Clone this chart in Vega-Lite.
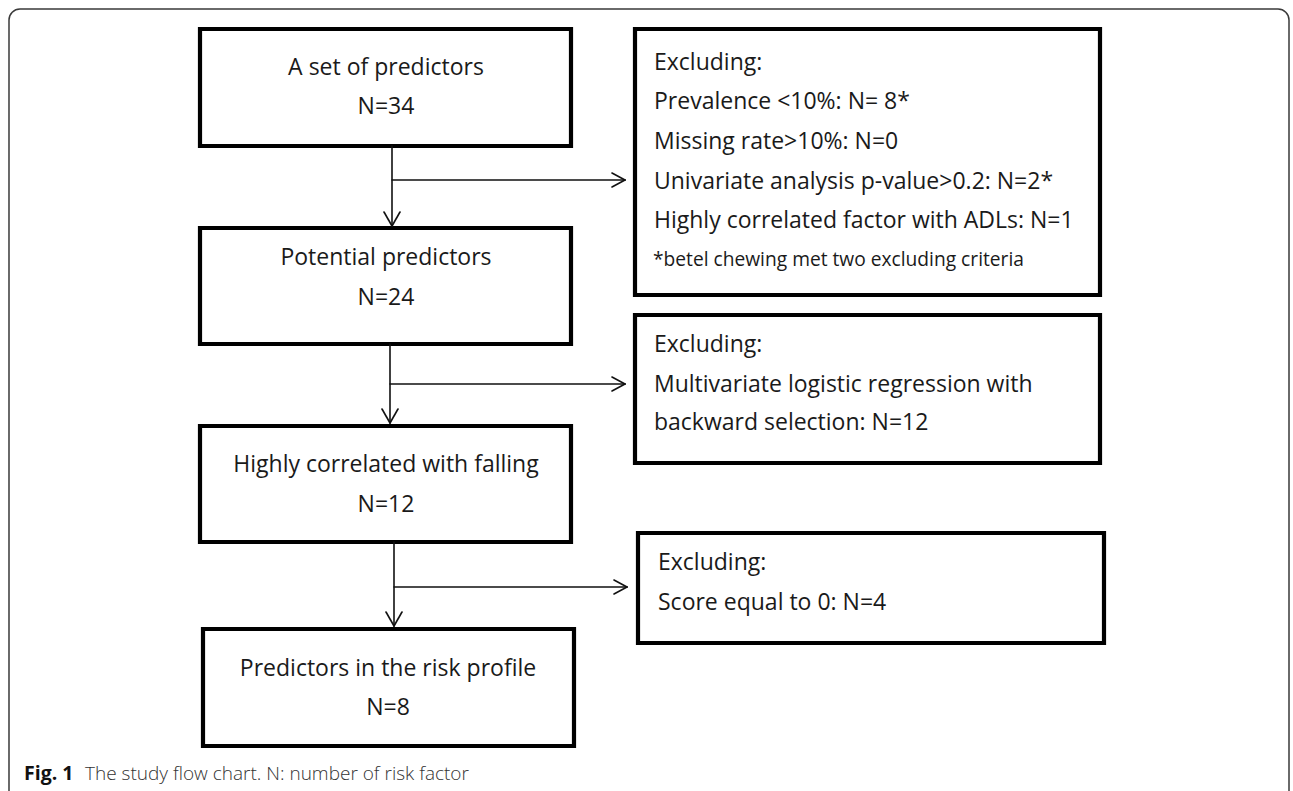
{
  "$schema": "https://vega.github.io/schema/vega-lite/v6.json",
  "width": 1293,
  "height": 791,
  "autosize": {"type": "fit", "contains": "padding"},
  "padding": 0,
  "background": "white",
  "config": {"view": {"stroke": null}},
  "datasets": {
    "frame": [{"x": 9, "x2": 1289, "y": 9, "y2": 840}],
    "boxes": [
      {"id": "B1", "x": 200, "x2": 571, "y": 29, "y2": 146},
      {"id": "B2", "x": 635, "x2": 1100, "y": 29, "y2": 295},
      {"id": "B3", "x": 200, "x2": 571, "y": 228, "y2": 344},
      {"id": "B4", "x": 635, "x2": 1100, "y": 315, "y2": 463},
      {"id": "B5", "x": 200, "x2": 571, "y": 426, "y2": 542},
      {"id": "B6", "x": 638, "x2": 1104, "y": 533, "y2": 643},
      {"id": "B7", "x": 203, "x2": 574, "y": 629, "y2": 746}
    ],
    "links": [
      {"x": 392, "y": 146, "x2": 392, "y2": 226},
      {"x": 384, "y": 212, "x2": 392, "y2": 226},
      {"x": 400, "y": 212, "x2": 392, "y2": 226},
      {"x": 392, "y": 180, "x2": 625, "y2": 180},
      {"x": 612, "y": 173, "x2": 625, "y2": 180},
      {"x": 612, "y": 187, "x2": 625, "y2": 180},
      {"x": 390, "y": 344, "x2": 390, "y2": 423},
      {"x": 382, "y": 409, "x2": 390, "y2": 423},
      {"x": 398, "y": 409, "x2": 390, "y2": 423},
      {"x": 390, "y": 384, "x2": 625, "y2": 384},
      {"x": 612, "y": 377, "x2": 625, "y2": 384},
      {"x": 612, "y": 391, "x2": 625, "y2": 384},
      {"x": 394, "y": 542, "x2": 394, "y2": 626},
      {"x": 386, "y": 612, "x2": 394, "y2": 626},
      {"x": 402, "y": 612, "x2": 394, "y2": 626},
      {"x": 394, "y": 587, "x2": 627, "y2": 587},
      {"x": 614, "y": 580, "x2": 627, "y2": 587},
      {"x": 614, "y": 594, "x2": 627, "y2": 587}
    ],
    "labels": [
      {"role": "center", "x": 386, "y": 68, "text": "A set of predictors"},
      {"role": "center", "x": 386, "y": 107, "text": "N=34"},
      {"role": "center", "x": 386, "y": 258, "text": "Potential predictors"},
      {"role": "center", "x": 386, "y": 298, "text": "N=24"},
      {"role": "center", "x": 386, "y": 465, "text": "Highly correlated with falling"},
      {"role": "center", "x": 386, "y": 505, "text": "N=12"},
      {"role": "center", "x": 388, "y": 669, "text": "Predictors in the risk profile"},
      {"role": "center", "x": 388, "y": 708, "text": "N=8"},
      {"role": "left", "x": 654, "y": 63, "text": "Excluding:"},
      {"role": "left", "x": 654, "y": 102, "text": "Prevalence <10%: N= 8*"},
      {"role": "left", "x": 654, "y": 142, "text": "Missing rate>10%: N=0"},
      {"role": "left", "x": 654, "y": 182, "text": "Univariate analysis p-value>0.2: N=2*"},
      {"role": "left", "x": 654, "y": 221, "text": "Highly correlated factor with ADLs: N=1"},
      {"role": "note", "x": 653, "y": 260, "text": "*betel chewing met two excluding criteria"},
      {"role": "left", "x": 654, "y": 345, "text": "Excluding:"},
      {"role": "left", "x": 654, "y": 385, "text": "Multivariate logistic regression with"},
      {"role": "left", "x": 654, "y": 423, "text": "backward selection: N=12"},
      {"role": "left", "x": 658, "y": 563, "text": "Excluding:"},
      {"role": "left", "x": 658, "y": 603, "text": "Score equal to 0: N=4"},
      {"role": "figno", "x": 24, "y": 774, "text": "Fig. 1"},
      {"role": "caption", "x": 85, "y": 774, "text": "The study flow chart. N: number of risk factor"}
    ]
  },
  "encoding": {
    "x": {"field": "x", "type": "quantitative", "scale": {"domain": [0, 1293], "nice": false, "zero": false}, "axis": null},
    "y": {"field": "y", "type": "quantitative", "scale": {"domain": [0, 791], "nice": false, "zero": false, "reverse": true}, "axis": null}
  },
  "layer": [
    {
      "data": {"name": "frame"},
      "mark": {"type": "rect", "fill": "white", "stroke": "#3a3a3a", "strokeWidth": 1.5, "cornerRadius": 11, "clip": true},
      "encoding": {"x2": {"field": "x2"}, "y2": {"field": "y2"}}
    },
    {
      "data": {"name": "boxes"},
      "mark": {"type": "rect", "fill": "white", "stroke": "#000000", "strokeWidth": 4.2},
      "encoding": {"x2": {"field": "x2"}, "y2": {"field": "y2"}}
    },
    {
      "data": {"name": "links"},
      "mark": {"type": "rule", "stroke": "#111111", "strokeWidth": 1.6, "strokeCap": "round"},
      "encoding": {"x2": {"field": "x2"}, "y2": {"field": "y2"}}
    },
    {
      "data": {"name": "labels"},
      "transform": [{"filter": "datum.role === 'center'"}],
      "mark": {"type": "text", "align": "center", "baseline": "middle", "font": "Open Sans", "fontSize": 23, "color": "#1a1a1a"},
      "encoding": {"text": {"field": "text"}}
    },
    {
      "data": {"name": "labels"},
      "transform": [{"filter": "datum.role === 'left'"}],
      "mark": {"type": "text", "align": "left", "baseline": "middle", "font": "Open Sans", "fontSize": 23, "color": "#1a1a1a"},
      "encoding": {"text": {"field": "text"}}
    },
    {
      "data": {"name": "labels"},
      "transform": [{"filter": "datum.role === 'note'"}],
      "mark": {"type": "text", "align": "left", "baseline": "middle", "font": "Open Sans", "fontSize": 19.2, "color": "#1a1a1a"},
      "encoding": {"text": {"field": "text"}}
    },
    {
      "data": {"name": "labels"},
      "transform": [{"filter": "datum.role === 'figno'"}],
      "mark": {"type": "text", "align": "left", "baseline": "middle", "font": "Open Sans", "fontSize": 19.5, "fontWeight": "bold", "color": "#111111"},
      "encoding": {"text": {"field": "text"}}
    },
    {
      "data": {"name": "labels"},
      "transform": [{"filter": "datum.role === 'caption'"}],
      "mark": {"type": "text", "align": "left", "baseline": "middle", "font": "Open Sans", "fontSize": 19, "fontWeight": 300, "color": "#333333"},
      "encoding": {"text": {"field": "text"}}
    }
  ]
}
